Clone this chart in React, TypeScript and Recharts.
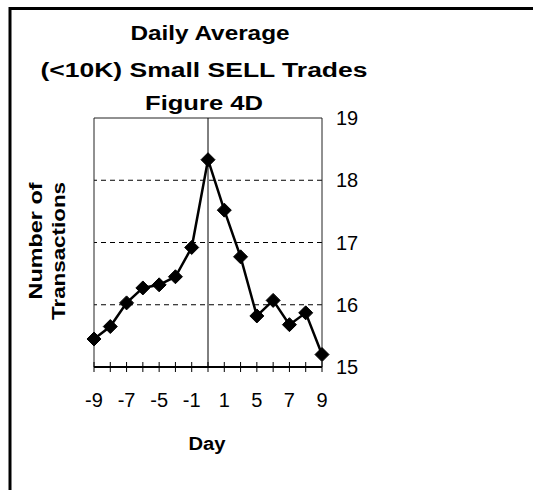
import React from "react";
import { LineChart, Line, XAxis, YAxis, ReferenceLine } from "recharts";

// days around the event; only every other category gets a label
const days = ["-9", "-8", "-7", "-6", "-5", "-3", "-1", "0", "1", "3", "5", "6", "7", "8", "9"];
const transactions = [15.45, 15.65, 16.03, 16.27, 16.32, 16.45, 16.92, 18.33, 17.52, 16.77, 15.82, 16.07, 15.68, 15.87, 15.2];
const yTicks = [15, 16, 17, 18, 19];
const gridValues = [16, 17, 18];

const titleLines = ["Daily Average", "(<10K) Small SELL Trades", "Figure 4D"];

const data = days.map((day, i) => ({ day, value: transactions[i] }));

const FONT = "'Liberation Sans', Arial, sans-serif";

function DayTick(props: any) {
  const { x, y, payload, index } = props;
  return (
    <g>
      <line x1={x} x2={x} y1={y - 5} y2={y + 5} stroke="#000" strokeWidth={1} />
      {index % 2 === 0 && (
        <text x={x} y={y + 40} textAnchor="middle" fontSize={20} fontFamily={FONT} fill="#000">
          {payload.value}
        </text>
      )}
    </g>
  );
}

function Diamond(props: any) {
  const { cx, cy, index } = props;
  if (cx == null || cy == null) return null;
  const r = 7;
  return (
    <polygon
      key={`d-${index}`}
      points={`${cx},${cy - r} ${cx + r},${cy} ${cx},${cy + r} ${cx - r},${cy}`}
      fill="#000"
      stroke="#000"
    />
  );
}

export default function App() {
  return (
    <div style={{ position: "absolute", left: 0, top: 0, width: 533, height: 490, background: "#fff" }}>
      <LineChart
        width={533}
        height={490}
        data={data}
        margin={{ top: 118, left: 94, right: 151, bottom: 93 }}
      >
        <XAxis
          dataKey="day"
          scale="point"
          padding={{ left: 0, right: 0 }}
          interval={0}
          height={30}
          tickLine={false}
          tickSize={0}
          tickMargin={0}
          axisLine={{ stroke: "#000", strokeWidth: 2 }}
          tick={<DayTick />}
        />
        <YAxis
          orientation="right"
          domain={[15, 19]}
          ticks={yTicks}
          width={60}
          tickLine={false}
          tickSize={0}
          tickMargin={14}
          axisLine={{ stroke: "#222", strokeWidth: 1 }}
          tick={{ fontSize: 20, fontFamily: FONT, fill: "#000" }}
        />
        {gridValues.map((v) => (
          <ReferenceLine key={v} y={v} stroke="#000" strokeWidth={1} strokeDasharray="5 4" />
        ))}
        <ReferenceLine y={19} stroke="#222" strokeWidth={1} />
        <ReferenceLine x={days[0]} stroke="#222" strokeWidth={1} />
        <ReferenceLine x="0" stroke="#000" strokeWidth={1} />
        <Line
          type="linear"
          dataKey="value"
          stroke="#000"
          strokeWidth={2.5}
          dot={<Diamond />}
          activeDot={false}
          isAnimationActive={false}
        />
      </LineChart>
      <svg
        width={533}
        height={490}
        style={{ position: "absolute", left: 0, top: 0, pointerEvents: "none" }}
      >
        <line x1={10} x2={533} y1={8.5} y2={8.5} stroke="#000" strokeWidth={3} />
        <line x1={10} x2={10} y1={7} y2={490} stroke="#000" strokeWidth={3} />
        <text x={210} y={40} textAnchor="middle" fontSize={20} fontWeight="bold" fontFamily={FONT} textLength={159} lengthAdjust="spacingAndGlyphs">
          {titleLines[0]}
        </text>
        <text x={204} y={77} textAnchor="middle" fontSize={20} fontWeight="bold" fontFamily={FONT} textLength={327} lengthAdjust="spacingAndGlyphs">
          {titleLines[1]}
        </text>
        <text x={204} y={110} textAnchor="middle" fontSize={20} fontWeight="bold" fontFamily={FONT} textLength={118} lengthAdjust="spacingAndGlyphs">
          {titleLines[2]}
        </text>
        <text transform="translate(42,241) rotate(-90)" textAnchor="middle" fontSize={18} fontWeight="bold" fontFamily={FONT} textLength={117} lengthAdjust="spacingAndGlyphs">
          Number of
        </text>
        <text transform="translate(65,251) rotate(-90)" textAnchor="middle" fontSize={18} fontWeight="bold" fontFamily={FONT} textLength={138} lengthAdjust="spacingAndGlyphs">
          Transactions
        </text>
        <text x={207} y={450} textAnchor="middle" fontSize={18} fontWeight="bold" fontFamily={FONT} textLength={37} lengthAdjust="spacingAndGlyphs">
          Day
        </text>
      </svg>
    </div>
  );
}
